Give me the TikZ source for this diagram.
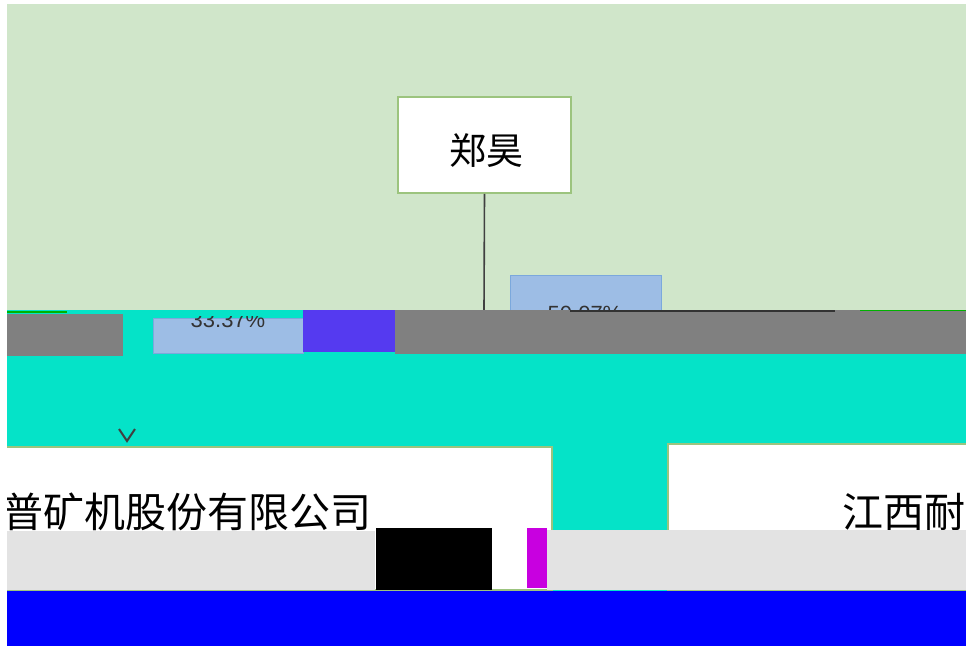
\documentclass[tikz,border=0pt]{standalone}
\usepackage{fontspec}
\newfontfamily\cjk{Noto Sans CJK SC}
\setmainfont{Liberation Sans}
\definecolor{bggreen}{HTML}{D0E6CA}
\definecolor{cyanbg}{HTML}{05E3C8}
\definecolor{midgray}{HTML}{808080}
\definecolor{violetblk}{HTML}{553AF0}
\definecolor{lblue}{HTML}{9DBDE5}
\definecolor{lbluedge}{HTML}{7BA8DC}
\definecolor{boxgreen}{HTML}{9CC47E}
\definecolor{lgray}{HTML}{E3E3E3}
\definecolor{magblk}{HTML}{C800E0}
\definecolor{pureblue}{HTML}{0000FF}
\tikzset{
  entity/.style={draw=boxgreen, line width=1.5pt, fill=white, inner sep=0pt},
  pctbox/.style={draw=lbluedge, line width=1pt, fill=lblue},
  conn/.style={draw=black!75, line width=1.6pt},
}
\begin{document}
\begin{tikzpicture}[x=1pt,y=-1pt]
\useasboundingbox (0,0) rectangle (966,646);
\fill[white] (0,0) rectangle (966,646);
\begin{scope}
\clip (7,4) rectangle (966,646);
% backgrounds
\fill[bggreen] (7,4) rectangle (966,311);
\fill[cyanbg] (7,310) rectangle (966,591);
% top person
\node[entity, minimum width=173pt, minimum height=96pt] (zh) at (484.5,145) {};
\node[anchor=base, inner sep=0pt] (zht) at (486,164) {\cjk\fontsize{37}{40}\selectfont 郑昊};
\coordinate (zhend) at (484,310);
\draw[conn] (zh.south) -- (zhend);
% upper percentage label (clipped)
\begin{scope}
\clip (500,270) rectangle (680,310);
\node[pctbox, minimum width=151pt, minimum height=35pt, inner sep=0pt] (p2) at (585.5,292.5) {};
\node[anchor=base, inner sep=0pt, text=black!80] (p2t) at (585,321) {\fontsize{22}{24}\selectfont 50.07\%};
\end{scope}
% gray bars and blocks
\fill[midgray] (7,314) rectangle (123,356);
\node[pctbox, minimum width=150pt, minimum height=35pt, inner sep=0pt] (p1) at (228,335.5) {};
\begin{scope}
\clip (153,316) rectangle (303,353);
\node[anchor=base, inner sep=0pt, text=black!80] (p1t) at (228,327) {\fontsize{22}{24}\selectfont 33.37\%};
\end{scope}
\fill[violetblk] (303,310) rectangle (395,352);
\fill[midgray] (395,310) rectangle (966,354);
\coordinate (hl1) at (570,311);
\coordinate (hl2) at (835,311);
\draw[black!80, line width=1.2pt] (hl1) -- (hl2);
\draw[green!70!black, line width=1.5pt] (860,310.5) -- (966,310.5);
\draw[green!70!black, line width=1.5pt] (7,312) -- (67,312);
% companies
\node[entity, minimum width=572pt, minimum height=143pt] (lc) at (266,518.5) {};
\node[entity, minimum width=312pt, minimum height=146pt] (rc) at (824,517) {};
\node[anchor=base east, inner sep=0pt] (lct) at (372,527) {\cjk\fontsize{41}{44}\selectfont 江西耐普矿机股份有限公司};
\node[anchor=base west, inner sep=0pt] (rct) at (842,527) {\cjk\fontsize{41}{44}\selectfont 江西耐普};
% arrowhead into left company
\coordinate (arrtip) at (127,441);
\draw[black!75, line width=2pt, line join=miter] (119,429) -- (arrtip) -- (135,429);
% glitch blocks
\fill[lgray] (7,531) rectangle (375,590);
\fill[black] (376,528) rectangle (492,590);
\fill[magblk] (527,528) rectangle (547,588);
\fill[lgray] (547,530) rectangle (966,590);
\fill[pureblue] (7,591) rectangle (966,646);
\end{scope}
\end{tikzpicture}
\end{document}
